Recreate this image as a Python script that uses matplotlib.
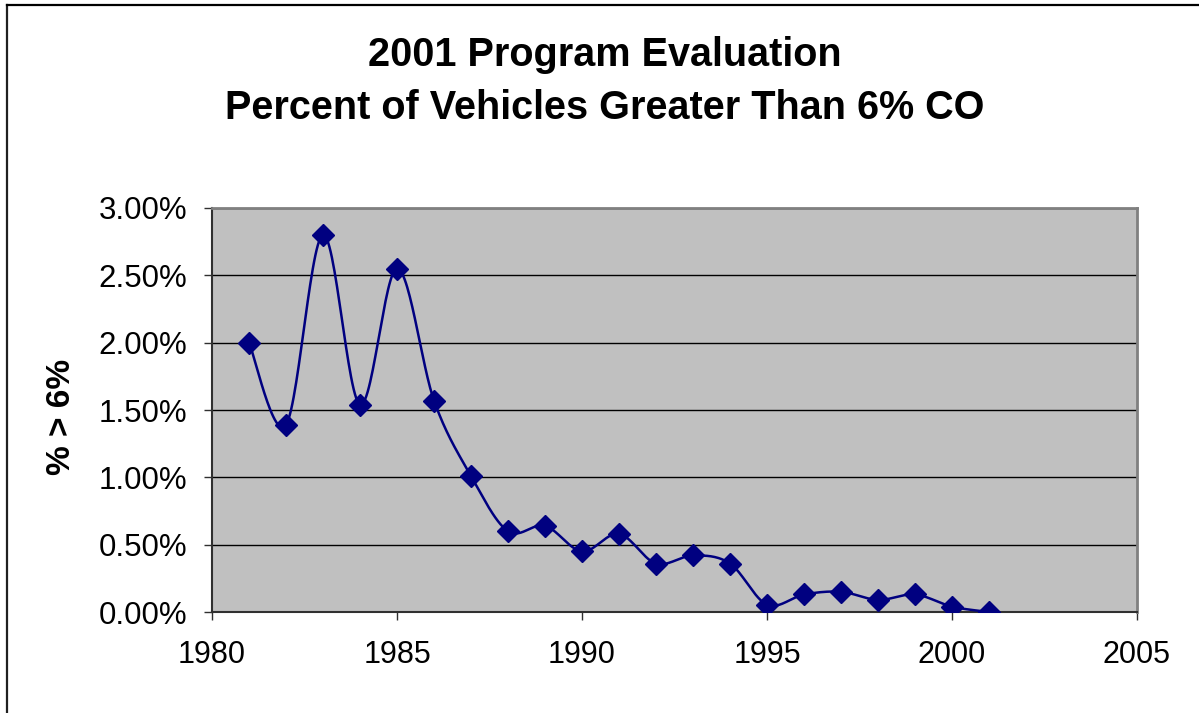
import numpy as np
import matplotlib
matplotlib.use('Agg')
import matplotlib.pyplot as plt
from matplotlib.ticker import FuncFormatter, MultipleLocator
from matplotlib.lines import Line2D

plt.rcParams['font.family'] = ['Liberation Sans', 'DejaVu Sans']

# data (fraction of vehicles > 6% CO)
years = [1981, 1982, 1983, 1984, 1985, 1986, 1987, 1988, 1989, 1990, 1991,
         1992, 1993, 1994, 1995, 1996, 1997, 1998, 1999, 2000, 2001]
pct = [0.0200, 0.0139, 0.0280, 0.0154, 0.0255, 0.0157, 0.0101, 0.0060, 0.0064,
       0.0045, 0.0058, 0.0036, 0.0042, 0.0036, 0.00055, 0.0013, 0.0015, 0.0009,
       0.0013, 0.0004, 0.0000]
title_lines = ['2001 Program Evaluation', 'Percent of Vehicles Greater Than 6% CO']
ylabel = '% > 6%'


def smooth(x, y, n=30):
    # excel-style smoothed line: cubic bezier with catmull-rom control points
    x = np.asarray(x, float)
    y = np.asarray(y, float)
    px = np.concatenate([[x[0]], x, [x[-1]]])
    py = np.concatenate([[y[0]], y, [y[-1]]])
    t = np.linspace(0, 1, n)[:, None]
    xs, ys = [], []
    for i in range(1, len(px) - 2):
        p0 = np.array([px[i], py[i]])
        p3 = np.array([px[i + 1], py[i + 1]])
        c1 = p0 + (p3 - np.array([px[i - 1], py[i - 1]])) / 6
        c2 = p3 - (np.array([px[i + 2], py[i + 2]]) - p0) / 6
        seg = ((1 - t) ** 3) * p0 + 3 * ((1 - t) ** 2) * t * c1 + 3 * (1 - t) * t ** 2 * c2 + t ** 3 * p3
        xs.append(seg[:, 0])
        ys.append(seg[:, 1])
    return np.concatenate(xs), np.concatenate(ys)


W, H = 1199, 713
fig = plt.figure(figsize=(W / 100, H / 100), dpi=100)
fig.patch.set_facecolor('white')

# chart area border (left + top visible)
fig.add_artist(Line2D([7 / W, 7 / W], [0, 1 - 5 / H], color='#202020', lw=1.6))
fig.add_artist(Line2D([7 / W, 1], [1 - 5 / H, 1 - 5 / H], color='black', lw=1.6))

ax = fig.add_axes([212 / W, (H - 612) / H, (1137 - 212) / W, (612 - 208) / H])
ax.set_facecolor('#C0C0C0')

ax.yaxis.set_major_locator(MultipleLocator(0.005))
ax.grid(axis='y', color='black', lw=1.0)
ax.set_axisbelow(True)

sx, sy = smooth(years, pct)
ax.plot(sx, sy, color='#000080', lw=1.8, zorder=3)
ax.plot(years, pct, ls='none', marker='D', ms=11, color='#000080', zorder=4)

ax.set_xlim(1980, 2005)
ax.set_ylim(0, 0.03)
ax.xaxis.set_major_locator(MultipleLocator(5))
ax.yaxis.set_major_formatter(FuncFormatter(lambda v, p: f'{v * 100:.2f}%'))

for s in ['top', 'right']:
    ax.spines[s].set_color('#808080')
    ax.spines[s].set_linewidth(2)
for s in ['left', 'bottom']:
    ax.spines[s].set_color('#303030')
    ax.spines[s].set_linewidth(1.5)

ax.tick_params(axis='both', direction='out', length=6, width=1, color='#303030', labelsize=22)
ax.tick_params(axis='y', labelsize=22.5)
ax.tick_params(axis='x', pad=14)
ax.tick_params(axis='y', pad=12)

ax.set_ylabel(ylabel, fontsize=24, fontweight='bold')
ax.yaxis.set_label_coords((77 - 212) / 925, (612 - 417) / 404)

fig.text(605 / W, 1 - 55 / H, title_lines[0], ha='center', va='center', fontsize=28.5, fontweight='bold')
fig.text(605 / W, 1 - 108 / H, title_lines[1], ha='center', va='center', fontsize=28.5, fontweight='bold')

fig.savefig('out.png', dpi=100)
